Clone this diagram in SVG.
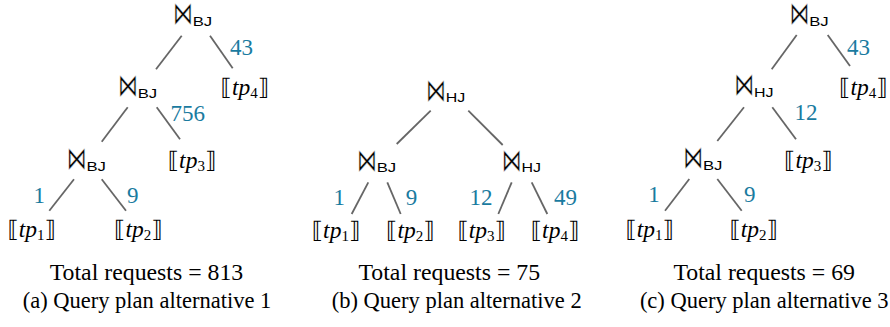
<svg xmlns="http://www.w3.org/2000/svg" width="890" height="327" viewBox="0 0 890 327">
<style>
.bt{font-family:"DejaVu Sans",sans-serif;font-size:21px;fill:#000;stroke:#fff;stroke-width:0.35}
.sub{font-family:"Liberation Sans",Arial,sans-serif;font-size:12.5px;fill:#000}
.leaf{font-family:"DejaVu Sans","Liberation Serif",serif;font-size:23px;fill:#000;text-anchor:middle}
.it{font-family:"Liberation Serif","Times New Roman",serif;font-style:italic;font-size:23.5px}
.ix{font-family:"Liberation Serif","Times New Roman",serif;font-size:15px}
.num{font-family:"Liberation Serif","Times New Roman",serif;font-size:23px;fill:#1a7ba0}
.tot{font-family:"Liberation Serif","Times New Roman",serif;font-size:23.8px;fill:#000;text-anchor:middle}
.cap{font-family:"Liberation Serif","Times New Roman",serif;font-size:22.5px;fill:#000;text-anchor:middle}
.edge{stroke:#666;stroke-width:1.8;fill:none}
</style>
<defs>
<g id="bowtie"><text class="bt" transform="scale(0.95,1.5)">⋈</text></g>
</defs>
<g id="connectors">
<line class="edge" x1="181.7" y1="35.7" x2="156" y2="69.3"/>
<line class="edge" x1="210" y1="35.7" x2="232.7" y2="68.3"/>
<line class="edge" x1="127.7" y1="107.3" x2="101.7" y2="141.7"/>
<line class="edge" x1="156.7" y1="107.3" x2="180" y2="139.3"/>
<line class="edge" x1="74" y1="179.3" x2="49.3" y2="210.7"/>
<line class="edge" x1="101.7" y1="179.3" x2="126" y2="210.7"/>
<line class="edge" x1="430.7" y1="110.7" x2="396.7" y2="144"/>
<line class="edge" x1="468.3" y1="110.7" x2="502.7" y2="145"/>
<line class="edge" x1="368.3" y1="182.3" x2="351.7" y2="214"/>
<line class="edge" x1="387.3" y1="182.3" x2="400.7" y2="214"/>
<line class="edge" x1="511.7" y1="182.3" x2="498.3" y2="214"/>
<line class="edge" x1="531.7" y1="182.3" x2="547.3" y2="214"/>
<line class="edge" x1="796.7" y1="35" x2="771.7" y2="69.3"/>
<line class="edge" x1="827.7" y1="35" x2="850" y2="66"/>
<line class="edge" x1="744" y1="107.3" x2="717.3" y2="141"/>
<line class="edge" x1="772.3" y1="107.3" x2="796" y2="139.3"/>
<line class="edge" x1="689.3" y1="179" x2="665" y2="210.7"/>
<line class="edge" x1="717.3" y1="179" x2="741.7" y2="210.7"/>
</g>
<g id="edge-labels">
<text class="num" x="230" y="55">43</text>
<text class="num" x="170.5" y="120.7">756</text>
<text class="num" x="33.6" y="202.7">1</text>
<text class="num" x="127" y="202.7">9</text>
<text class="num" x="333.6" y="205">1</text>
<text class="num" x="405.7" y="205">9</text>
<text class="num" x="469.5" y="205">12</text>
<text class="num" x="554" y="205">49</text>
<text class="num" x="847" y="55">43</text>
<text class="num" x="794.5" y="120">12</text>
<text class="num" x="648.3" y="201.7">1</text>
<text class="num" x="744" y="201.7">9</text>
</g>
<g id="plan-a">
<g id="a-j1" transform="translate(173,24)"><use href="#bowtie"/><text class="sub" x="19.7" y="2" textLength="19.5" lengthAdjust="spacingAndGlyphs">BJ</text></g>
<g id="a-j2" transform="translate(118,95.5)"><use href="#bowtie"/><text class="sub" x="19.7" y="2" textLength="19.5" lengthAdjust="spacingAndGlyphs">BJ</text></g>
<g id="a-j3" transform="translate(66.7,168.5)"><use href="#bowtie"/><text class="sub" x="19.7" y="2" textLength="19.5" lengthAdjust="spacingAndGlyphs">BJ</text></g>
<g id="a-tp1"><text class="leaf" x="31.7" y="237">⟦<tspan class="it">tp</tspan><tspan class="ix" dy="3">1</tspan><tspan dy="-3">⟧</tspan></text></g>
<g id="a-tp2"><text class="leaf" x="138.3" y="237">⟦<tspan class="it">tp</tspan><tspan class="ix" dy="3">2</tspan><tspan dy="-3">⟧</tspan></text></g>
<g id="a-tp3"><text class="leaf" x="192" y="168">⟦<tspan class="it">tp</tspan><tspan class="ix" dy="3">3</tspan><tspan dy="-3">⟧</tspan></text></g>
<g id="a-tp4"><text class="leaf" x="244.8" y="94.5">⟦<tspan class="it">tp</tspan><tspan class="ix" dy="3">4</tspan><tspan dy="-3">⟧</tspan></text></g>
<text id="a-total" class="tot" x="146.5" y="280">Total requests = 813</text>
<text id="a-caption" class="cap" x="147" y="308">(a) Query plan alternative 1</text>
</g>
<g id="plan-b">
<g id="b-j1" transform="translate(426,100.5)"><use href="#bowtie"/><text class="sub" x="19.7" y="1" textLength="19.5" lengthAdjust="spacingAndGlyphs">HJ</text></g>
<g id="b-j2" transform="translate(357,170.5)"><use href="#bowtie"/><text class="sub" x="19.7" y="1.5" textLength="19.5" lengthAdjust="spacingAndGlyphs">BJ</text></g>
<g id="b-j3" transform="translate(501.7,170.5)"><use href="#bowtie"/><text class="sub" x="19.7" y="1.5" textLength="19.5" lengthAdjust="spacingAndGlyphs">HJ</text></g>
<g id="b-tp1"><text class="leaf" x="336" y="238">⟦<tspan class="it">tp</tspan><tspan class="ix" dy="3">1</tspan><tspan dy="-3">⟧</tspan></text></g>
<g id="b-tp2"><text class="leaf" x="410.3" y="238">⟦<tspan class="it">tp</tspan><tspan class="ix" dy="3">2</tspan><tspan dy="-3">⟧</tspan></text></g>
<g id="b-tp3"><text class="leaf" x="481.7" y="238">⟦<tspan class="it">tp</tspan><tspan class="ix" dy="3">3</tspan><tspan dy="-3">⟧</tspan></text></g>
<g id="b-tp4"><text class="leaf" x="555" y="238">⟦<tspan class="it">tp</tspan><tspan class="ix" dy="3">4</tspan><tspan dy="-3">⟧</tspan></text></g>
<text id="b-total" class="tot" x="449.3" y="280">Total requests = 75</text>
<text id="b-caption" class="cap" x="456.7" y="308">(b) Query plan alternative 2</text>
</g>
<g id="plan-c">
<g id="c-j1" transform="translate(789.5,24)"><use href="#bowtie"/><text class="sub" x="19.7" y="2" textLength="19.5" lengthAdjust="spacingAndGlyphs">BJ</text></g>
<g id="c-j2" transform="translate(734.3,95.3)"><use href="#bowtie"/><text class="sub" x="19.7" y="1.3" textLength="19.5" lengthAdjust="spacingAndGlyphs">HJ</text></g>
<g id="c-j3" transform="translate(683.3,168)"><use href="#bowtie"/><text class="sub" x="19.7" y="2" textLength="19.5" lengthAdjust="spacingAndGlyphs">BJ</text></g>
<g id="c-tp1"><text class="leaf" x="649.7" y="237">⟦<tspan class="it">tp</tspan><tspan class="ix" dy="3">1</tspan><tspan dy="-3">⟧</tspan></text></g>
<g id="c-tp2"><text class="leaf" x="753.7" y="237">⟦<tspan class="it">tp</tspan><tspan class="ix" dy="3">2</tspan><tspan dy="-3">⟧</tspan></text></g>
<g id="c-tp3"><text class="leaf" x="808.3" y="168">⟦<tspan class="it">tp</tspan><tspan class="ix" dy="3">3</tspan><tspan dy="-3">⟧</tspan></text></g>
<g id="c-tp4"><text class="leaf" x="863.3" y="94.5">⟦<tspan class="it">tp</tspan><tspan class="ix" dy="3">4</tspan><tspan dy="-3">⟧</tspan></text></g>
<text id="c-total" class="tot" x="764.2" y="280">Total requests = 69</text>
<text id="c-caption" class="cap" x="764.2" y="308">(c) Query plan alternative 3</text>
</g>
</svg>
